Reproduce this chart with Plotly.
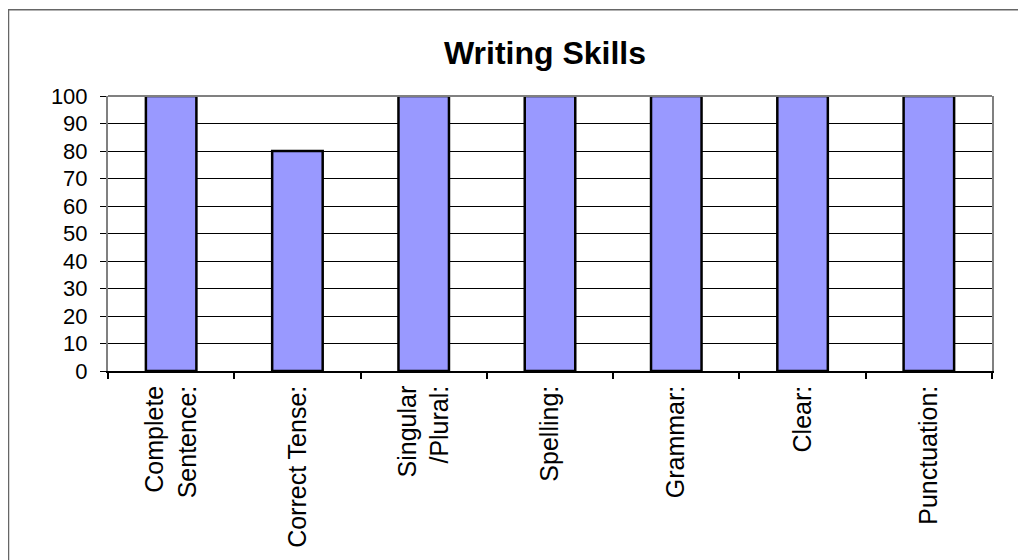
import plotly.graph_objects as go

categories = ["Complete<br>Sentence:", "Correct Tense:", "Singular<br>/Plural:", "Spelling:",
              "Grammar:", "Clear:", "Punctuation:"]
values = [100, 80, 100, 100, 100, 100, 100]
y_ticks = [0, 10, 20, 30, 40, 50, 60, 70, 80, 90, 100]
title_text = "Writing Skills"

OFF = 8  # page body margin
W, H = 1026 - OFF, 560 - OFF
# plot area in page pixels -> figure pixels
L, R, T, B = 108 - OFF, 992 - OFF, 96 - OFF, 373 - OFF
pw, ph = R - L, B - T

def px_x(p):
    return (p - L) / pw

def px_y(p):
    return (B - p) / ph

fig = go.Figure(go.Bar(
    x=categories, y=values,
    marker=dict(color="#9999FF", line=dict(color="#000000", width=2.5)),
))

fig.update_layout(
    width=W, height=H,
    margin=dict(l=L, r=W - R, t=T, b=H - B),
    paper_bgcolor="white", plot_bgcolor="white",
    font=dict(family="Liberation Sans, Arial, sans-serif", color="black"),
    bargap=0.6,
    showlegend=False,
    title=dict(text="<b>" + title_text + "</b>", font=dict(size=32, color="black"),
               x=px_x(545 - OFF), xref="paper", xanchor="center",
               y=1 - (52.5 - OFF) / H, yref="container", yanchor="middle"),
)

fig.update_xaxes(
    showline=True, linecolor="black", linewidth=1.5,
    ticks="outside", tickson="boundaries", ticklen=6, tickcolor="black", tickwidth=1.5,
    tickangle=-90, tickfont=dict(size=25, color="black"),
    ticklabelstandoff=3,
    showgrid=False,
)
fig.update_yaxes(
    range=[0, 100], tickvals=y_ticks,
    showline=True, linecolor="#808080", linewidth=2, mirror=True,
    ticks="outside", ticklen=6, tickcolor="black", tickwidth=1,
    tickfont=dict(size=22, color="black"),
    ticklabelstandoff=8,
    showgrid=True, gridcolor="black", gridwidth=1,
    zeroline=False,
)

# top border of plot area (gray)
fig.add_shape(type="line", xref="paper", yref="paper", x0=0, x1=1, y0=1, y1=1,
              line=dict(color="#808080", width=2), layer="above")
# outer chart border
fig.add_shape(type="rect", xref="paper", yref="paper",
              x0=px_x(0.5), x1=px_x(W + 10), y0=px_y(H + 10), y1=px_y(1),
              line=dict(color="#666666", width=1.5), fillcolor="rgba(0,0,0,0)", layer="below")

fig.write_html("out.html")
